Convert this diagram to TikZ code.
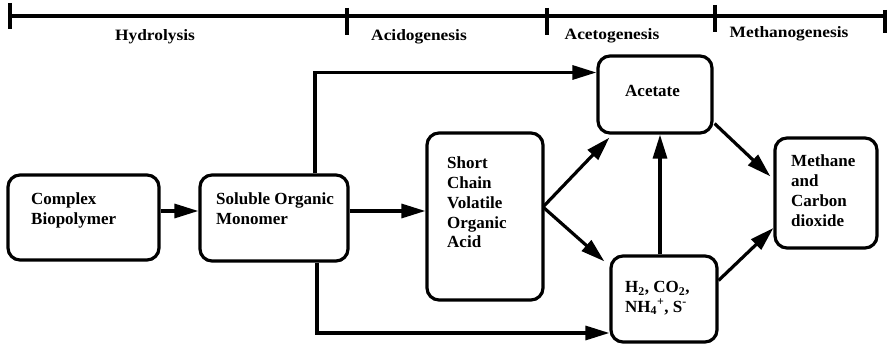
\documentclass[tikz,border=0pt]{standalone}
\usepackage{fontspec}
\setmainfont{Liberation Serif}
\newfontfamily\phasefont[FakeStretch=1.1]{Liberation Serif}
\usetikzlibrary{arrows.meta,calc}
\begin{document}
\begin{tikzpicture}[x=1pt,y=-1pt,
  box/.style={draw, line width=3.2pt, rounded corners=12pt, inner sep=0pt},
  boxtext/.style={anchor=north west, align=left, inner sep=0pt,
    font=\fontsize{17}{19.7}\selectfont\bfseries},
  phase/.style={inner sep=0pt, font=\phasefont\fontsize{15.8}{18}\selectfont\bfseries},
  flow/.style={line width=3.2pt, -{Triangle[length=24pt,width=14pt]}},
  rule/.style={line width=3.2pt}]
\useasboundingbox (0,0) rectangle (887,347);

% phase time line
\coordinate (t0) at (10,16);
\coordinate (t4) at (885,16);
\draw[rule] (t0) -- (t4);
\draw[rule] (10,3) -- (10,29);
\draw[rule] (347,8) -- (347,35);
\draw[rule] (547,8) -- (547,35);
\draw[rule] (715,5) -- (715,32);
\draw[rule] (885,10) -- (885,33);
\node[phase] (hyd) at (155,37) {Hydrolysis};
\node[phase] (acid) at (419,36.5) {Acidogenesis};
\node[phase] (acet) at (612,36) {Acetogenesis};
\node[phase] (meg) at (789,34) {Methanogenesis};

% process boxes
\node[box, minimum width=151pt, minimum height=85pt] (cb) at (83.5,217.5) {};
\node[box, minimum width=148pt, minimum height=86pt] (som) at (274,218) {};
\node[box, minimum width=116pt, minimum height=167pt] (scv) at (485,216.5) {};
\node[box, minimum width=114pt, minimum height=77pt] (ace) at (655,94.5) {};
\node[box, minimum width=106pt, minimum height=86pt] (h2) at (664,299) {};
\node[box, minimum width=102pt, minimum height=110pt] (meth) at (826,193) {};

% box texts
\node[boxtext] (cbt) at (31,193) {Complex\\Biopolymer};
\node[boxtext] (somt) at (216,193) {Soluble Organic\\Monomer};
\node[boxtext] (scvt) at (447,157) {Short\\Chain\\Volatile\\Organic\\Acid};
\node[boxtext] (acett) at (625,85) {Acetate};
\node[boxtext] (h2t) at (625,281) {H\textsubscript{2}, CO\textsubscript{2},\\NH\textsubscript{4}\textsuperscript{+}, S\textsuperscript{-}};
\node[boxtext] (metht) at (791,155) {Methane\\and\\Carbon\\dioxide};

% routing points
\coordinate (up) at (315,72.5);
\coordinate (dn) at (317,333);
\coordinate (mid) at (0,211);
\coordinate (fork) at (543,207);
\coordinate (vx) at (660,0);

% connectors
\draw[flow] (cb.east |- mid) -- (som.west |- mid);
\draw[flow] (som.east |- mid) -- (scv.west |- mid);
\draw[flow] (som.north -| up) |- (ace.west |- up);
\draw[flow] (som.south -| dn) |- (h2.west |- dn);
\draw[flow] (fork) -- ($(ace.south west)+(13,3)$);
\draw[flow] (fork) -- ($(h2.north west)+(-5,7)$);
\draw[flow] (h2.north -| vx) -- (ace.south -| vx);
\draw[flow] ($(ace.south east)+(1,-11)$) -- ($(meth.north west)+(-3,40)$);
\draw[flow] ($(h2.north east)+(0,26)$) -- ($(meth.west)+(0,35)$);
\end{tikzpicture}
\end{document}
